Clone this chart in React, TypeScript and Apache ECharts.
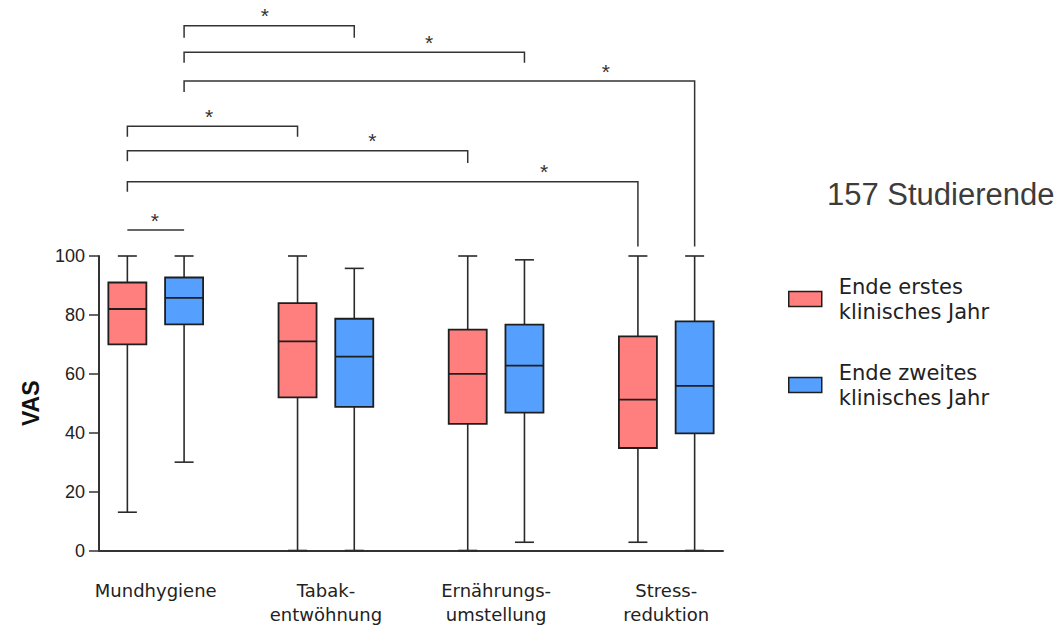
import React, { useEffect, useRef } from "react";
import * as echarts from "echarts";

// ---- data ----
const categories = ["Mundhygiene", "Tabak-\nentwöhnung", "Ernährungs-\numstellung", "Stress-\nreduktion"];
const seriesNames = ["Ende erstes\nklinisches Jahr", "Ende zweites\nklinisches Jahr"];
const seriesColors = ["#FF7F7F", "#55A0FF"];

const year1Min = [13, 0, 0, 2.8];
const year1Q1 = [70, 52, 43, 34.8];
const year1Median = [82, 71, 60, 51.2];
const year1Q3 = [91, 84, 75, 72.7];
const year1Max = [100, 100, 100, 100];

const year2Min = [30, 0, 2.8, 0];
const year2Q1 = [76.8, 48.8, 46.8, 39.8];
const year2Median = [85.8, 65.8, 62.8, 55.9];
const year2Q3 = [92.7, 78.7, 76.7, 77.8];
const year2Max = [100, 95.8, 98.7, 100];

const yTicks = [0, 20, 40, 60, 80, 100];

// significance comparisons: (group, year) pairs, bracket level and end levels in VAS units,
// star position as fraction of bracket length
const compFromGroup = [0, 0, 0, 0, 0, 0, 0];
const compFromYear = [1, 1, 1, 0, 0, 0, 0];
const compToGroup = [1, 2, 3, 1, 2, 3, 0];
const compToYear = [1, 1, 1, 0, 0, 0, 1];
const compLevel = [178.2, 169.2, 159.4, 144.1, 135.7, 125.2, 108.8];
const compLeftEnd = [174.1, 165.6, 155.7, 140.5, 132.2, 121.8, 108.8];
const compRightEnd = [174.1, 165.6, 103.2, 140.5, 131.6, 103.2, 108.8];
const compStarAt = [0.475, 0.72, 0.826, 0.48, 0.72, 0.816, 0.485];
const compLabel = ["*", "*", "*", "*", "*", "*", "*"];

// slot on the x axis: 6 slots per group, boxes at odd slots, label between them
const slotsPerGroup = 6;
const slotCount = categories.length * slotsPerGroup - 1;
const slotOf = (g: number, y: number) => g * slotsPerGroup + 1 + 2 * y;
const labelSlotOf = (g: number) => g * slotsPerGroup + 2;

export default function App() {
  const ref = useRef<HTMLDivElement>(null);

  useEffect(() => {
    if (!ref.current) return;
    const chart = echarts.init(ref.current, null, { renderer: "svg" });

    const axisData: string[] = [];
    for (let i = 0; i < slotCount; i++) axisData.push("");
    categories.forEach((c, g) => (axisData[labelSlotOf(g)] = c));

    const yearData = [
      [year1Min, year1Q1, year1Median, year1Q3, year1Max],
      [year2Min, year2Q1, year2Median, year2Q3, year2Max],
    ];

    const boxSeries = yearData.map((arrs, s) => ({
      type: "custom",
      name: seriesNames[s],
      itemStyle: { color: seriesColors[s] },
      data: categories.map((_, g) => [slotOf(g, s), arrs[0][g], arrs[1][g], arrs[2][g], arrs[3][g], arrs[4][g]]),
      encode: { x: 0, y: [1, 2, 3, 4, 5] },
      renderItem: (params: any, api: any) => {
        const x = api.value(0);
        const pMin = api.coord([x, api.value(1)]);
        const pQ1 = api.coord([x, api.value(2)]);
        const pMed = api.coord([x, api.value(3)]);
        const pQ3 = api.coord([x, api.value(4)]);
        const pMax = api.coord([x, api.value(5)]);
        const step = Math.abs(api.coord([1, 0])[0] - api.coord([0, 0])[0]);
        const halfW = step * 0.67;
        const capHalf = halfW / 2;
        const cx = pMin[0];
        const lineStyle = { stroke: "#2a2a2a", lineWidth: 1.6 };
        return {
          type: "group",
          children: [
            { type: "line", shape: { x1: cx, y1: pMin[1], x2: cx, y2: pQ1[1] }, style: lineStyle },
            { type: "line", shape: { x1: cx, y1: pQ3[1], x2: cx, y2: pMax[1] }, style: lineStyle },
            { type: "line", shape: { x1: cx - capHalf, y1: pMin[1], x2: cx + capHalf, y2: pMin[1] }, style: lineStyle },
            { type: "line", shape: { x1: cx - capHalf, y1: pMax[1], x2: cx + capHalf, y2: pMax[1] }, style: lineStyle },
            {
              type: "rect",
              shape: { x: cx - halfW, y: pQ3[1], width: halfW * 2, height: pQ1[1] - pQ3[1] },
              style: { fill: seriesColors[s], stroke: "#1e1e1e", lineWidth: 1.8 },
            },
            { type: "line", shape: { x1: cx - halfW, y1: pMed[1], x2: cx + halfW, y2: pMed[1] }, style: { stroke: "#1e1e1e", lineWidth: 1.8 } },
          ],
        };
      },
    }));

    const bracketSeries = {
      type: "custom",
      name: "Signifikanz",
      silent: true,
      clip: false,
      data: compLevel.map((lv, i) => [
        slotOf(compFromGroup[i], compFromYear[i]),
        slotOf(compToGroup[i], compToYear[i]),
        lv,
        compLeftEnd[i],
        compRightEnd[i],
        compStarAt[i],
      ]),
      encode: { x: [0, 1], y: [2] },
      renderItem: (params: any, api: any) => {
        const x1 = api.value(0);
        const x2 = api.value(1);
        const pL = api.coord([x1, api.value(2)]);
        const pR = api.coord([x2, api.value(2)]);
        const pLE = api.coord([x1, api.value(3)]);
        const pRE = api.coord([x2, api.value(4)]);
        const sx = pL[0] + (pR[0] - pL[0]) * api.value(5);
        return {
          type: "group",
          children: [
            {
              type: "polyline",
              shape: { points: [[pLE[0], pLE[1]], [pL[0], pL[1]], [pR[0], pR[1]], [pRE[0], pRE[1]]] },
              style: { stroke: "#333", lineWidth: 1.5, fill: null },
            },
            {
              type: "text",
              style: {
                x: sx,
                y: pL[1] - 10,
                text: compLabel[params.dataIndex],
                fontSize: 21,
                fontFamily: "Liberation Sans, Arial, sans-serif",
                fill: "#333",
                align: "center",
                verticalAlign: "middle",
              },
            },
          ],
        };
      },
    };

    chart.setOption({
      animation: false,
      backgroundColor: "#ffffff",
      title: {
        text: "157 Studierende",
        left: 827,
        top: 179,
        padding: 0,
        textStyle: {
          fontSize: 31,
          fontWeight: "normal",
          fontFamily: "Liberation Sans, Arial, sans-serif",
          color: "#3c3c3c",
        },
      },
      legend: {
        orient: "vertical",
        left: 788,
        top: 274,
        padding: 0,
        itemGap: 36,
        itemWidth: 33,
        itemHeight: 15,
        selectedMode: false,
        data: seriesNames.map((n, i) => ({
          name: n,
          icon: "rect",
          itemStyle: { color: seriesColors[i], borderColor: "#1e1e1e", borderWidth: 1.5 },
        })),
        textStyle: {
          fontSize: 21,
          fontFamily: "DejaVu Sans, sans-serif",
          color: "#222",
          lineHeight: 25,
          padding: [0, 0, 0, 12],
        },
      },
      grid: { left: 99, top: 256, width: 624, bottom: 76.5, containLabel: false },
      xAxis: {
        type: "category",
        data: axisData,
        boundaryGap: false,
        axisLine: { show: true, lineStyle: { color: "#333", width: 2 } },
        axisTick: { show: false },
        splitLine: { show: false },
        axisLabel: {
          interval: 0,
          margin: 28,
          fontSize: 18,
          lineHeight: 24,
          fontFamily: "DejaVu Sans, sans-serif",
          color: "#222",
          align: "center",
        },
      },
      yAxis: {
        type: "value",
        min: 0,
        max: 100,
        interval: 20,
        name: "VAS",
        nameLocation: "middle",
        nameRotate: 90,
        nameGap: 57,
        nameTextStyle: {
          fontSize: 23,
          fontWeight: "bold",
          fontFamily: "Liberation Sans, Arial, sans-serif",
          color: "#111",
        },
        axisLine: { show: true, lineStyle: { color: "#333", width: 2 } },
        axisTick: { show: true, inside: false, length: 10, lineStyle: { color: "#333", width: 1.5 } },
        splitLine: { show: false },
        axisLabel: {
          margin: 14,
          fontSize: 18,
          fontFamily: "Liberation Sans, Arial, sans-serif",
          color: "#222",
          formatter: (v: number) => (yTicks.indexOf(v) >= 0 ? String(v) : ""),
        },
      },
      series: [...boxSeries, bracketSeries],
    } as any);

    return () => chart.dispose();
  }, []);

  return (
    <div
      ref={ref}
      style={{ position: "fixed", left: 0, top: 0, width: "1063px", height: "627px", background: "#fff" }}
    />
  );
}
